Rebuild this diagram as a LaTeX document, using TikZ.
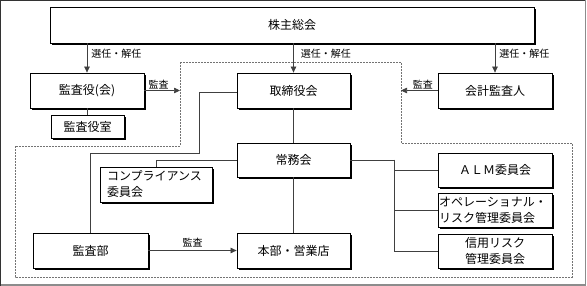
\documentclass[tikz,border=0pt]{standalone}
\usepackage{fontspec}
\setmainfont{Noto Sans CJK JP}
\usetikzlibrary{arrows.meta,shadows}
\tikzset{
  box/.style={draw=black, line width=0.8pt, fill=white, inner sep=0pt,
    minimum width=#1, font=\fontsize{12}{16}\selectfont,
    drop shadow={shadow xshift=2.2pt, shadow yshift=-2.2pt, fill=black, opacity=1}},
  box/.default=114pt,
  conn/.style={draw=black!75, line width=0.7pt},
  arr/.style={conn, -{Triangle[length=6pt,width=5.5pt]}},
  lbl/.style={font=\fontsize{10}{12}\selectfont, inner sep=1pt},
  zone/.style={draw=black!55, line width=0.6pt, dash pattern=on 1.6pt off 1.4pt}
}
\begin{document}
\begin{tikzpicture}[x=1pt,y=-1pt]
\useasboundingbox (0,0) rectangle (587,286);
% outer frame
\draw[black!80, line width=1pt] (0.5,285.5) -- (0.5,0.5) -- (585.5,0.5);
\draw[black!45, line width=1.2pt] (585.6,0.5) -- (585.6,285) -- (0.5,285);
% dashed zone
\draw[zone] (180,62) -- (401,62) -- (401,143) -- (572,143) -- (572,277) -- (15,277) -- (15,146) -- (180,146) -- cycle;
\coordinate (zl) at (180,90.5);
\coordinate (zr) at (401,90.5);
% nodes
\node[box=484pt, minimum height=36pt] (kabu) at (292,25) {株主総会};
\node[box, minimum height=35pt] (kansayaku) at (87,90.5) {監査役(会)};
\node[box=73pt, minimum height=23pt] (shitsu) at (87.5,126.5) {監査役室};
\node[box=113pt, minimum height=35pt] (tori) at (293.5,90.5) {取締役会};
\node[box, minimum height=35pt] (kaikei) at (495,90.5) {会計監査人};
\node[box=113pt, minimum height=34pt] (jomu) at (293.5,160) {常務会};
\node[box=112pt, minimum height=35pt, align=left, text width=98pt] (comp) at (156,184.5) {コンプライアンス\\委員会};
\node[box=115pt, minimum height=35pt] (kansabu) at (90.5,250.5) {監査部};
\node[box=113pt, minimum height=35pt] (honbu) at (293.5,250.5) {本部・営業店};
\node[box, minimum height=34pt] (alm) at (495,170) {ＡＬＭ委員会};
\node[box, minimum height=34pt, align=left, text width=112pt] (ope) at (495,210) {オペレーショナル・\\リスク管理委員会};
\node[box, minimum height=34pt, align=center] (shin) at (495,251) {信用リスク\\管理委員会};
% connectors
\draw[arr] (kabu.south -| kansayaku.north) -- node[lbl, right, pos=0.35, xshift=3pt] {選任・解任} (kansayaku.north);
\draw[arr] (kabu.south -| tori.north) -- node[lbl, right, pos=0.35, xshift=6pt] {選任・解任} (tori.north);
\draw[arr] (kabu.south -| kaikei.north) -- node[lbl, right, pos=0.35, xshift=3pt] {選任・解任} (kaikei.north);
\draw[arr] (kansayaku.east) -- node[lbl, above, pos=0.4] {監査} (zl);
\draw[arr] (kaikei.west) -- node[lbl, above, pos=0.4] {監査} (zr);
\draw[conn] (kansayaku.south) -- (shitsu.north -| kansayaku.south);
\draw[conn] (tori.south) -- (jomu.north);
\draw[conn] (jomu.south) -- (honbu.north);
\draw[conn] ([yshift=-2pt]tori.west) -| (199,153) -| (kansabu.north);
\draw[conn] (jomu.west) -| (comp.north);
\draw[conn] (jomu.east) -- (394,160) |- (alm.west);
\draw[conn] (394,160) |- (ope.west);
\draw[conn] (394,160) |- (shin.west);
\draw[arr] (kansabu.east) -- node[lbl, above, pos=0.5, yshift=2pt] {監査} (honbu.west);
\end{tikzpicture}
\end{document}
